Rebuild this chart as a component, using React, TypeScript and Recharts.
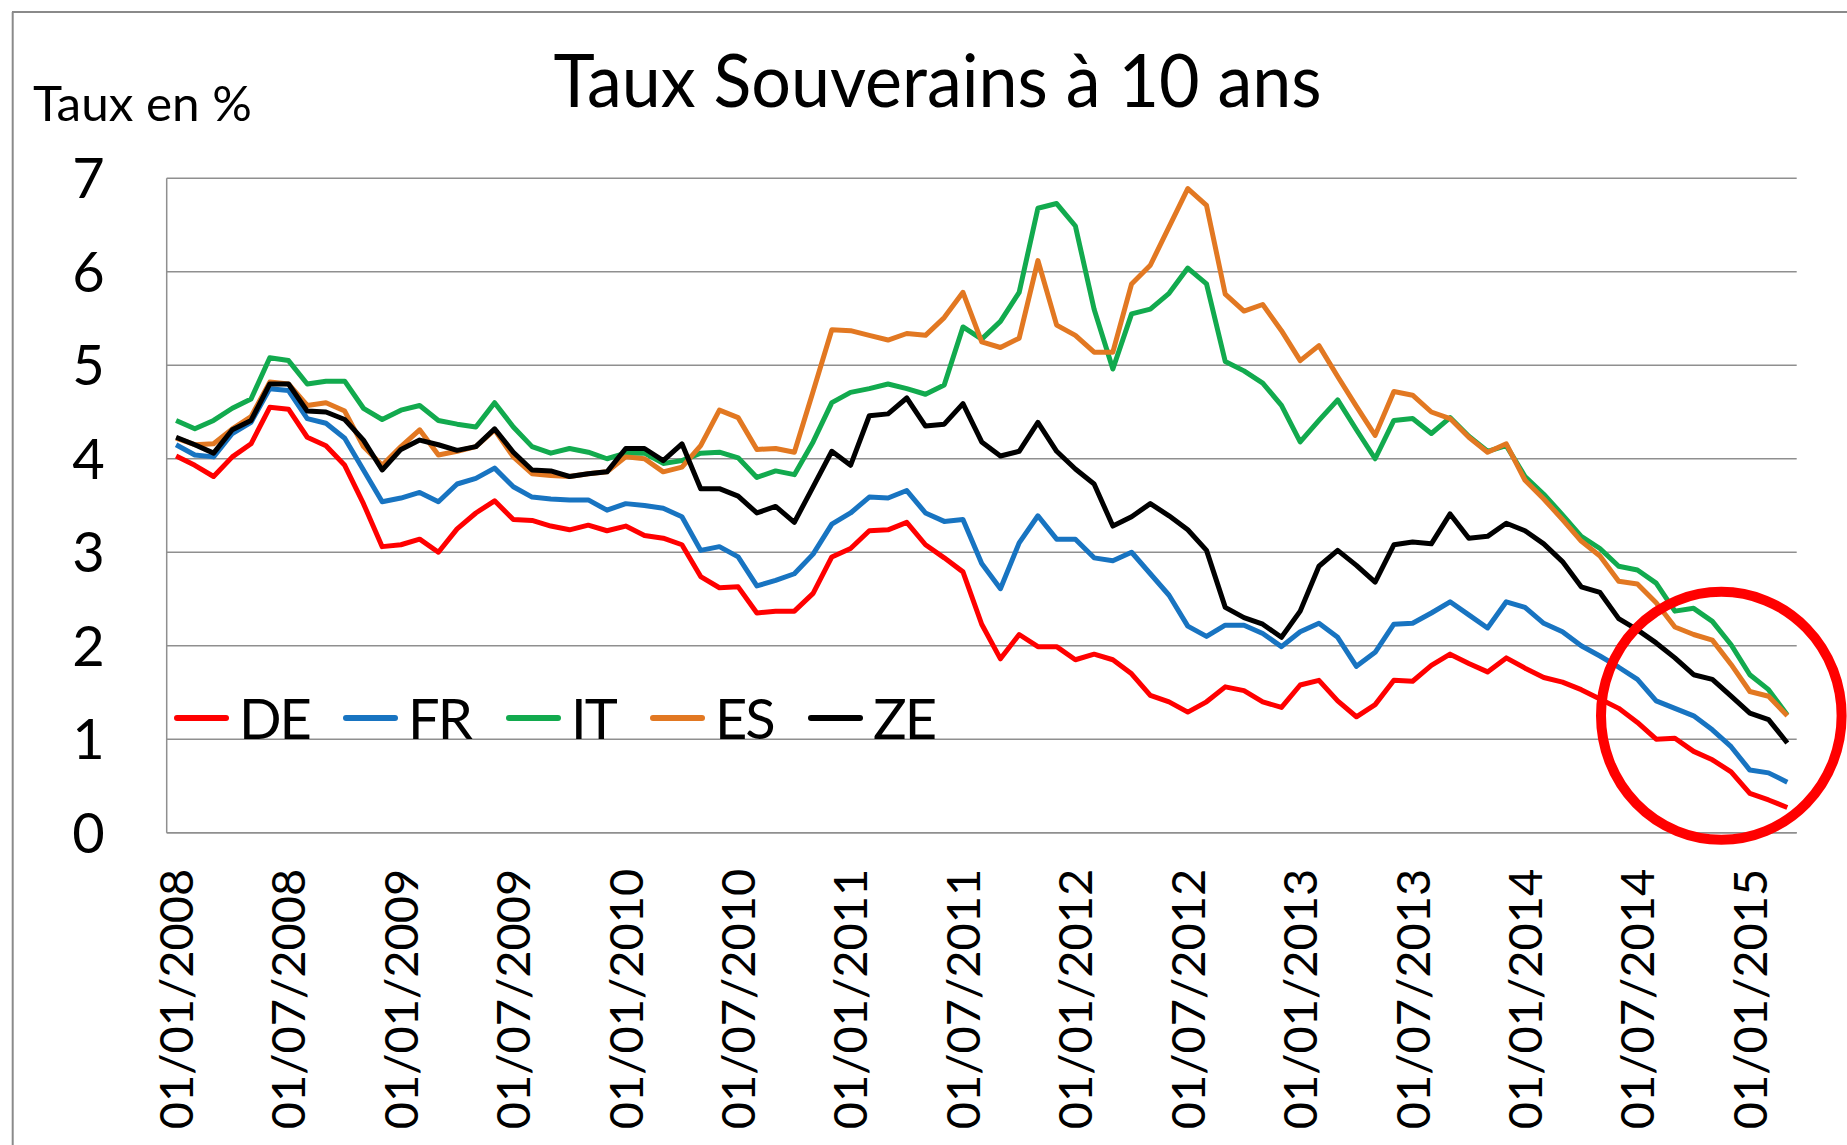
import React from "react";
import { LineChart, Line, XAxis, YAxis, CartesianGrid, Legend } from "recharts";

// monthly dates, Jan 2008 -> Mar 2015
const categories: string[] = [
  "01/01/2008", "01/02/2008", "01/03/2008", "01/04/2008", "01/05/2008", "01/06/2008",
  "01/07/2008", "01/08/2008", "01/09/2008", "01/10/2008", "01/11/2008", "01/12/2008",
  "01/01/2009", "01/02/2009", "01/03/2009", "01/04/2009", "01/05/2009", "01/06/2009",
  "01/07/2009", "01/08/2009", "01/09/2009", "01/10/2009", "01/11/2009", "01/12/2009",
  "01/01/2010", "01/02/2010", "01/03/2010", "01/04/2010", "01/05/2010", "01/06/2010",
  "01/07/2010", "01/08/2010", "01/09/2010", "01/10/2010", "01/11/2010", "01/12/2010",
  "01/01/2011", "01/02/2011", "01/03/2011", "01/04/2011", "01/05/2011", "01/06/2011",
  "01/07/2011", "01/08/2011", "01/09/2011", "01/10/2011", "01/11/2011", "01/12/2011",
  "01/01/2012", "01/02/2012", "01/03/2012", "01/04/2012", "01/05/2012", "01/06/2012",
  "01/07/2012", "01/08/2012", "01/09/2012", "01/10/2012", "01/11/2012", "01/12/2012",
  "01/01/2013", "01/02/2013", "01/03/2013", "01/04/2013", "01/05/2013", "01/06/2013",
  "01/07/2013", "01/08/2013", "01/09/2013", "01/10/2013", "01/11/2013", "01/12/2013",
  "01/01/2014", "01/02/2014", "01/03/2014", "01/04/2014", "01/05/2014", "01/06/2014",
  "01/07/2014", "01/08/2014", "01/09/2014", "01/10/2014", "01/11/2014", "01/12/2014",
  "01/01/2015", "01/02/2015", "01/03/2015",
];

const xTicks = [
  "01/01/2008", "01/07/2008", "01/01/2009", "01/07/2009", "01/01/2010",
  "01/07/2010", "01/01/2011", "01/07/2011", "01/01/2012", "01/07/2012",
  "01/01/2013", "01/07/2013", "01/01/2014", "01/07/2014", "01/01/2015",
];
const yTicks = [0, 1, 2, 3, 4, 5, 6, 7];

const DE = [
  4.03, 3.93, 3.81, 4.02, 4.16, 4.55, 4.53, 4.23, 4.14, 3.93, 3.52, 3.06,
  3.08, 3.14, 3.0, 3.25, 3.42, 3.55, 3.35, 3.34, 3.28, 3.24, 3.29, 3.23,
  3.28, 3.18, 3.15, 3.08, 2.74, 2.62, 2.63, 2.35, 2.37, 2.37, 2.56, 2.95,
  3.04, 3.23, 3.24, 3.32, 3.08, 2.94, 2.79, 2.23, 1.86, 2.12, 1.99, 1.99,
  1.85, 1.91, 1.85, 1.7, 1.47, 1.4, 1.29, 1.4, 1.56, 1.52, 1.4, 1.34,
  1.58, 1.63, 1.41, 1.24, 1.37, 1.63, 1.62, 1.79, 1.91, 1.81, 1.72, 1.87,
  1.76, 1.66, 1.61, 1.53, 1.43, 1.33, 1.18, 1.0, 1.01, 0.87, 0.78, 0.65,
  0.42, 0.35, 0.27,
];
const FR = [
  4.15, 4.04, 4.02, 4.27, 4.39, 4.75, 4.73, 4.43, 4.38, 4.22, 3.88, 3.54,
  3.58, 3.64, 3.54, 3.73, 3.79, 3.9, 3.7, 3.59, 3.57, 3.56, 3.56, 3.45,
  3.52, 3.5, 3.47, 3.38, 3.02, 3.06, 2.95, 2.64, 2.7, 2.77, 2.98, 3.3,
  3.42, 3.59, 3.58, 3.66, 3.42, 3.33, 3.35, 2.88, 2.61, 3.1, 3.39, 3.14,
  3.14, 2.94, 2.91, 3.0, 2.77, 2.54, 2.21, 2.1, 2.22, 2.22, 2.13, 1.99,
  2.15, 2.24, 2.09, 1.78, 1.93, 2.23, 2.24, 2.35, 2.47, 2.33, 2.19, 2.47,
  2.41, 2.24, 2.15, 2.0, 1.89, 1.77, 1.64, 1.41, 1.33, 1.25, 1.1, 0.92,
  0.67, 0.64, 0.54,
];
const IT = [
  4.41, 4.32, 4.41, 4.54, 4.64, 5.08, 5.05, 4.8, 4.83, 4.83, 4.54, 4.42,
  4.52, 4.57, 4.41, 4.37, 4.34, 4.6, 4.34, 4.13, 4.06, 4.11, 4.07, 4.0,
  4.06, 4.06, 3.95, 3.98, 4.06, 4.07, 4.01, 3.8, 3.87, 3.83, 4.18, 4.6,
  4.71, 4.75, 4.8, 4.75, 4.69, 4.79, 5.41, 5.28, 5.47, 5.78, 6.68, 6.73,
  6.49, 5.6, 4.96, 5.55, 5.6, 5.77, 6.04, 5.87, 5.04, 4.94, 4.81, 4.57,
  4.18, 4.41, 4.63, 4.31, 4.0, 4.41, 4.43, 4.27, 4.44, 4.24, 4.08, 4.14,
  3.81, 3.62, 3.4, 3.17, 3.04, 2.85, 2.81, 2.67, 2.37, 2.4, 2.26, 2.01,
  1.69, 1.53, 1.26,
];
const ES = [
  4.22, 4.15, 4.16, 4.32, 4.45, 4.82, 4.8, 4.57, 4.6, 4.51, 4.13, 3.93,
  4.13, 4.31, 4.04, 4.08, 4.13, 4.31, 4.02, 3.84, 3.82, 3.81, 3.84, 3.86,
  4.02, 4.0, 3.86, 3.91, 4.14, 4.52, 4.44, 4.1, 4.11, 4.07, 4.72, 5.38,
  5.37, 5.32, 5.27, 5.34, 5.32, 5.51, 5.78, 5.25, 5.19, 5.29, 6.12, 5.43,
  5.32, 5.14, 5.14, 5.87, 6.07, 6.48, 6.89, 6.71, 5.76, 5.58, 5.65, 5.37,
  5.05, 5.21, 4.88, 4.56, 4.25, 4.72, 4.68, 4.5, 4.43, 4.23, 4.07, 4.16,
  3.77, 3.57, 3.35, 3.12, 2.96, 2.69, 2.66, 2.46, 2.2, 2.12, 2.06, 1.8,
  1.51, 1.46, 1.25,
];
const ZE = [
  4.23, 4.15, 4.06, 4.31, 4.41, 4.8, 4.8, 4.51, 4.5, 4.42, 4.2, 3.88,
  4.1, 4.2, 4.15, 4.09, 4.13, 4.32, 4.07, 3.88, 3.87, 3.81, 3.84, 3.86,
  4.11, 4.11, 3.98, 4.16, 3.68, 3.68, 3.6, 3.42, 3.49, 3.32, 3.7, 4.08,
  3.93, 4.46, 4.48, 4.65, 4.35, 4.37, 4.59, 4.18, 4.03, 4.08, 4.39, 4.08,
  3.89, 3.73, 3.28, 3.38, 3.52, 3.39, 3.24, 3.02, 2.41, 2.3, 2.23, 2.09,
  2.37, 2.85, 3.02, 2.86, 2.68, 3.08, 3.11, 3.09, 3.41, 3.15, 3.17, 3.31,
  3.23, 3.09, 2.9, 2.63, 2.57, 2.29, 2.17, 2.03, 1.87, 1.69, 1.64, 1.46,
  1.28, 1.21, 0.96,
];

const series = [
  { key: "DE", color: "#FF0000" },
  { key: "FR", color: "#1874C1" },
  { key: "IT", color: "#12AA4E" },
  { key: "ES", color: "#E27822" },
  { key: "ZE", color: "#000000" },
];

const data = categories.map((date, i) => ({
  date,
  DE: DE[i],
  FR: FR[i],
  IT: IT[i],
  ES: ES[i],
  ZE: ZE[i],
}));

const FONT = "Lato, 'Open Sans', sans-serif";
const GRID = "#8f8f8f";

const DateTick = (props: any) => {
  const { x, y, payload } = props;
  return (
    <g transform={`translate(${x},${y + 36})`}>
      <text
        x={0}
        y={0}
        transform="rotate(-90)"
        textAnchor="end"
        dy="0.36em"
        fontSize={47}
        fontFamily={FONT}
        fill="#000"
      >
        {payload.value}
      </text>
    </g>
  );
};

// item widths follow the spacing of the original legend
const legendWidths = [169, 163, 144, 158, 130];

const renderLegend = () => (
  <div style={{ display: "flex", fontFamily: FONT }}>
    {series.map((s, i) => (
      <div
        key={s.key}
        style={{ display: "flex", alignItems: "center", width: legendWidths[i], height: 56 }}
      >
        <span
          style={{
            display: "inline-block",
            width: 55,
            height: 6,
            borderRadius: 3,
            background: s.color,
            marginRight: 10,
          }}
        />
        <span style={{ fontSize: 56, lineHeight: "56px", letterSpacing: -2, color: "#000" }}>
          {s.key}
        </span>
      </div>
    ))}
  </div>
);

const App: React.FC = () => {
  return (
    <div
      style={{
        position: "absolute",
        left: 0,
        top: 0,
        width: 1847,
        height: 1145,
        background: "#fff",
        overflow: "hidden",
      }}
    >
      <LineChart
        width={1847}
        height={1145}
        data={data}
        margin={{ top: 178.3, right: 50.3, bottom: 22.3, left: 66.7 }}
      >
        <CartesianGrid vertical={false} stroke={GRID} strokeWidth={1.5} />
        <XAxis
          dataKey="date"
          ticks={xTicks}
          interval={0}
          height={290}
          padding={{ left: 9.4, right: 9.4 }}
          tickLine={false}
          tickSize={0}
          tickMargin={0}
          axisLine={{ stroke: GRID, strokeWidth: 1.5 }}
          tick={<DateTick />}
        />
        <YAxis
          domain={[0, 7]}
          ticks={yTicks}
          width={100}
          tickLine={false}
          tickSize={0}
          tickMargin={62}
          axisLine={{ stroke: GRID, strokeWidth: 1.5 }}
          tick={{ fontSize: 56, fontFamily: FONT, fill: "#000" }}
        />
        <Legend
          layout="horizontal"
          verticalAlign="middle"
          align="center"
          content={renderLegend}
          wrapperStyle={{ left: 174, top: 690, width: 800, height: 56 }}
        />
        {series.map((s) => (
          <Line
            key={s.key}
            type="linear"
            dataKey={s.key}
            stroke={s.color}
            strokeWidth={5}
            strokeLinejoin="round"
            dot={false}
            isAnimationActive={false}
          />
        ))}
      </LineChart>
      <svg
        width={1847}
        height={1145}
        style={{ position: "absolute", left: 0, top: 0, pointerEvents: "none" }}
      >
        <line x1={12.7} y1={12} x2={12.7} y2={1145} stroke="#8a8a8a" strokeWidth={2} />
        <line x1={12} y1={12} x2={1847} y2={12} stroke="#8a8a8a" strokeWidth={2} />
        <text
          x={553.6}
          y={107}
          fontSize={73}
          fontFamily={FONT}
          textLength={768}
          lengthAdjust="spacingAndGlyphs"
          fill="#000"
        >
          Taux Souverains à 10 ans
        </text>
        <text
          x={33}
          y={121}
          fontSize={48}
          fontFamily={FONT}
          textLength={219}
          lengthAdjust="spacingAndGlyphs"
          fill="#000"
        >
          Taux en %
        </text>
        <ellipse cx={1721.3} cy={715.8} rx={120.3} ry={124} fill="none" stroke="#FF0000" strokeWidth={10} />
      </svg>
    </div>
  );
};

export default App;
